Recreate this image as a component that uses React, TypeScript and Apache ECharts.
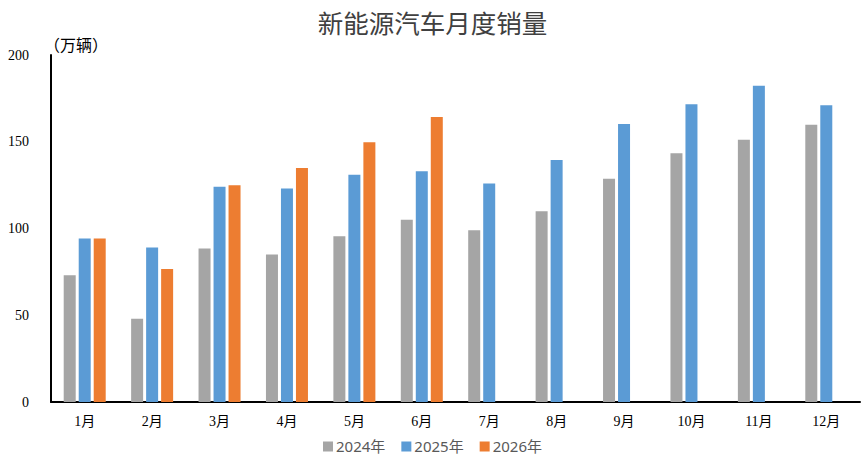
import React, { useEffect, useRef } from "react";
import * as echarts from "echarts";

const months = ["1月", "2月", "3月", "4月", "5月", "6月", "7月", "8月", "9月", "10月", "11月", "12月"];
const sales2024 = [73, 48, 88.5, 85, 95.5, 105, 99, 110, 128.7, 143.3, 151.2, 159.8];
const sales2025 = [94.3, 89, 124, 123, 131, 133, 126, 139.5, 160.2, 171.6, 182.3, 171];
const sales2026 = [94.3, 76.7, 125, 134.8, 149.7, 164.3, null, null, null, null, null, null];
const yTicks = [0, 50, 100, 150, 200];

export default function App() {
  const ref = useRef<HTMLDivElement>(null);
  useEffect(() => {
    if (!ref.current) return;
    const chart = echarts.init(ref.current, undefined, { renderer: "svg" });
    const serif = "'Liberation Serif', 'Noto Sans CJK SC', serif";
    chart.setOption({
      animation: false,
      backgroundColor: "#ffffff",
      title: {
        text: "新能源汽车月度销量",
        left: "center",
        top: 4,
        textStyle: { fontSize: 25.5, fontWeight: "normal", color: "#404040", fontFamily: "'Noto Sans CJK SC', sans-serif" },
      },
      legend: {
        bottom: 2,
        left: "center",
        itemWidth: 10,
        itemHeight: 10,
        itemGap: 16,
        icon: "rect",
        textStyle: { fontSize: 15, color: "#595959", fontFamily: "'Noto Sans', 'Noto Sans CJK SC', sans-serif", padding: [0, 0, 0, -2] },
        data: ["2024年", "2025年", "2026年"],
      },
      grid: { left: 51, right: 5, top: 55, bottom: 59, containLabel: false },
      xAxis: {
        type: "category",
        data: months,
        axisLine: { lineStyle: { color: "#000", width: 2 } },
        axisTick: { show: false },
        axisLabel: { fontSize: 14, color: "#000", fontFamily: serif, margin: 12 },
      },
      yAxis: {
        type: "value",
        min: yTicks[0],
        max: yTicks[yTicks.length - 1],
        interval: 50,
        name: "（万辆）",
        nameLocation: "end",
        nameGap: 3,
        nameTextStyle: { fontSize: 16, color: "#000", fontFamily: "'Noto Sans CJK SC', sans-serif", align: "left", padding: [0, 0, 0, -7] },
        axisLine: { show: true, lineStyle: { color: "#000", width: 2 } },
        axisTick: { show: false },
        splitLine: { show: false },
        axisLabel: { fontSize: 14, color: "#000", fontFamily: serif, margin: 22 },
      },
      series: [
        { name: "2024年", type: "bar", data: sales2024, barWidth: 12, barGap: "25%", itemStyle: { color: "#A5A5A5" } },
        { name: "2025年", type: "bar", data: sales2025, barWidth: 12, barGap: "25%", itemStyle: { color: "#5B9BD5" } },
        { name: "2026年", type: "bar", data: sales2026, barWidth: 12, barGap: "25%", itemStyle: { color: "#ED7D31" } },
      ],
    });
    return () => chart.dispose();
  }, []);
  return <div ref={ref} style={{ width: 865, height: 461, position: "absolute", left: 0, top: 0 }} />;
}
